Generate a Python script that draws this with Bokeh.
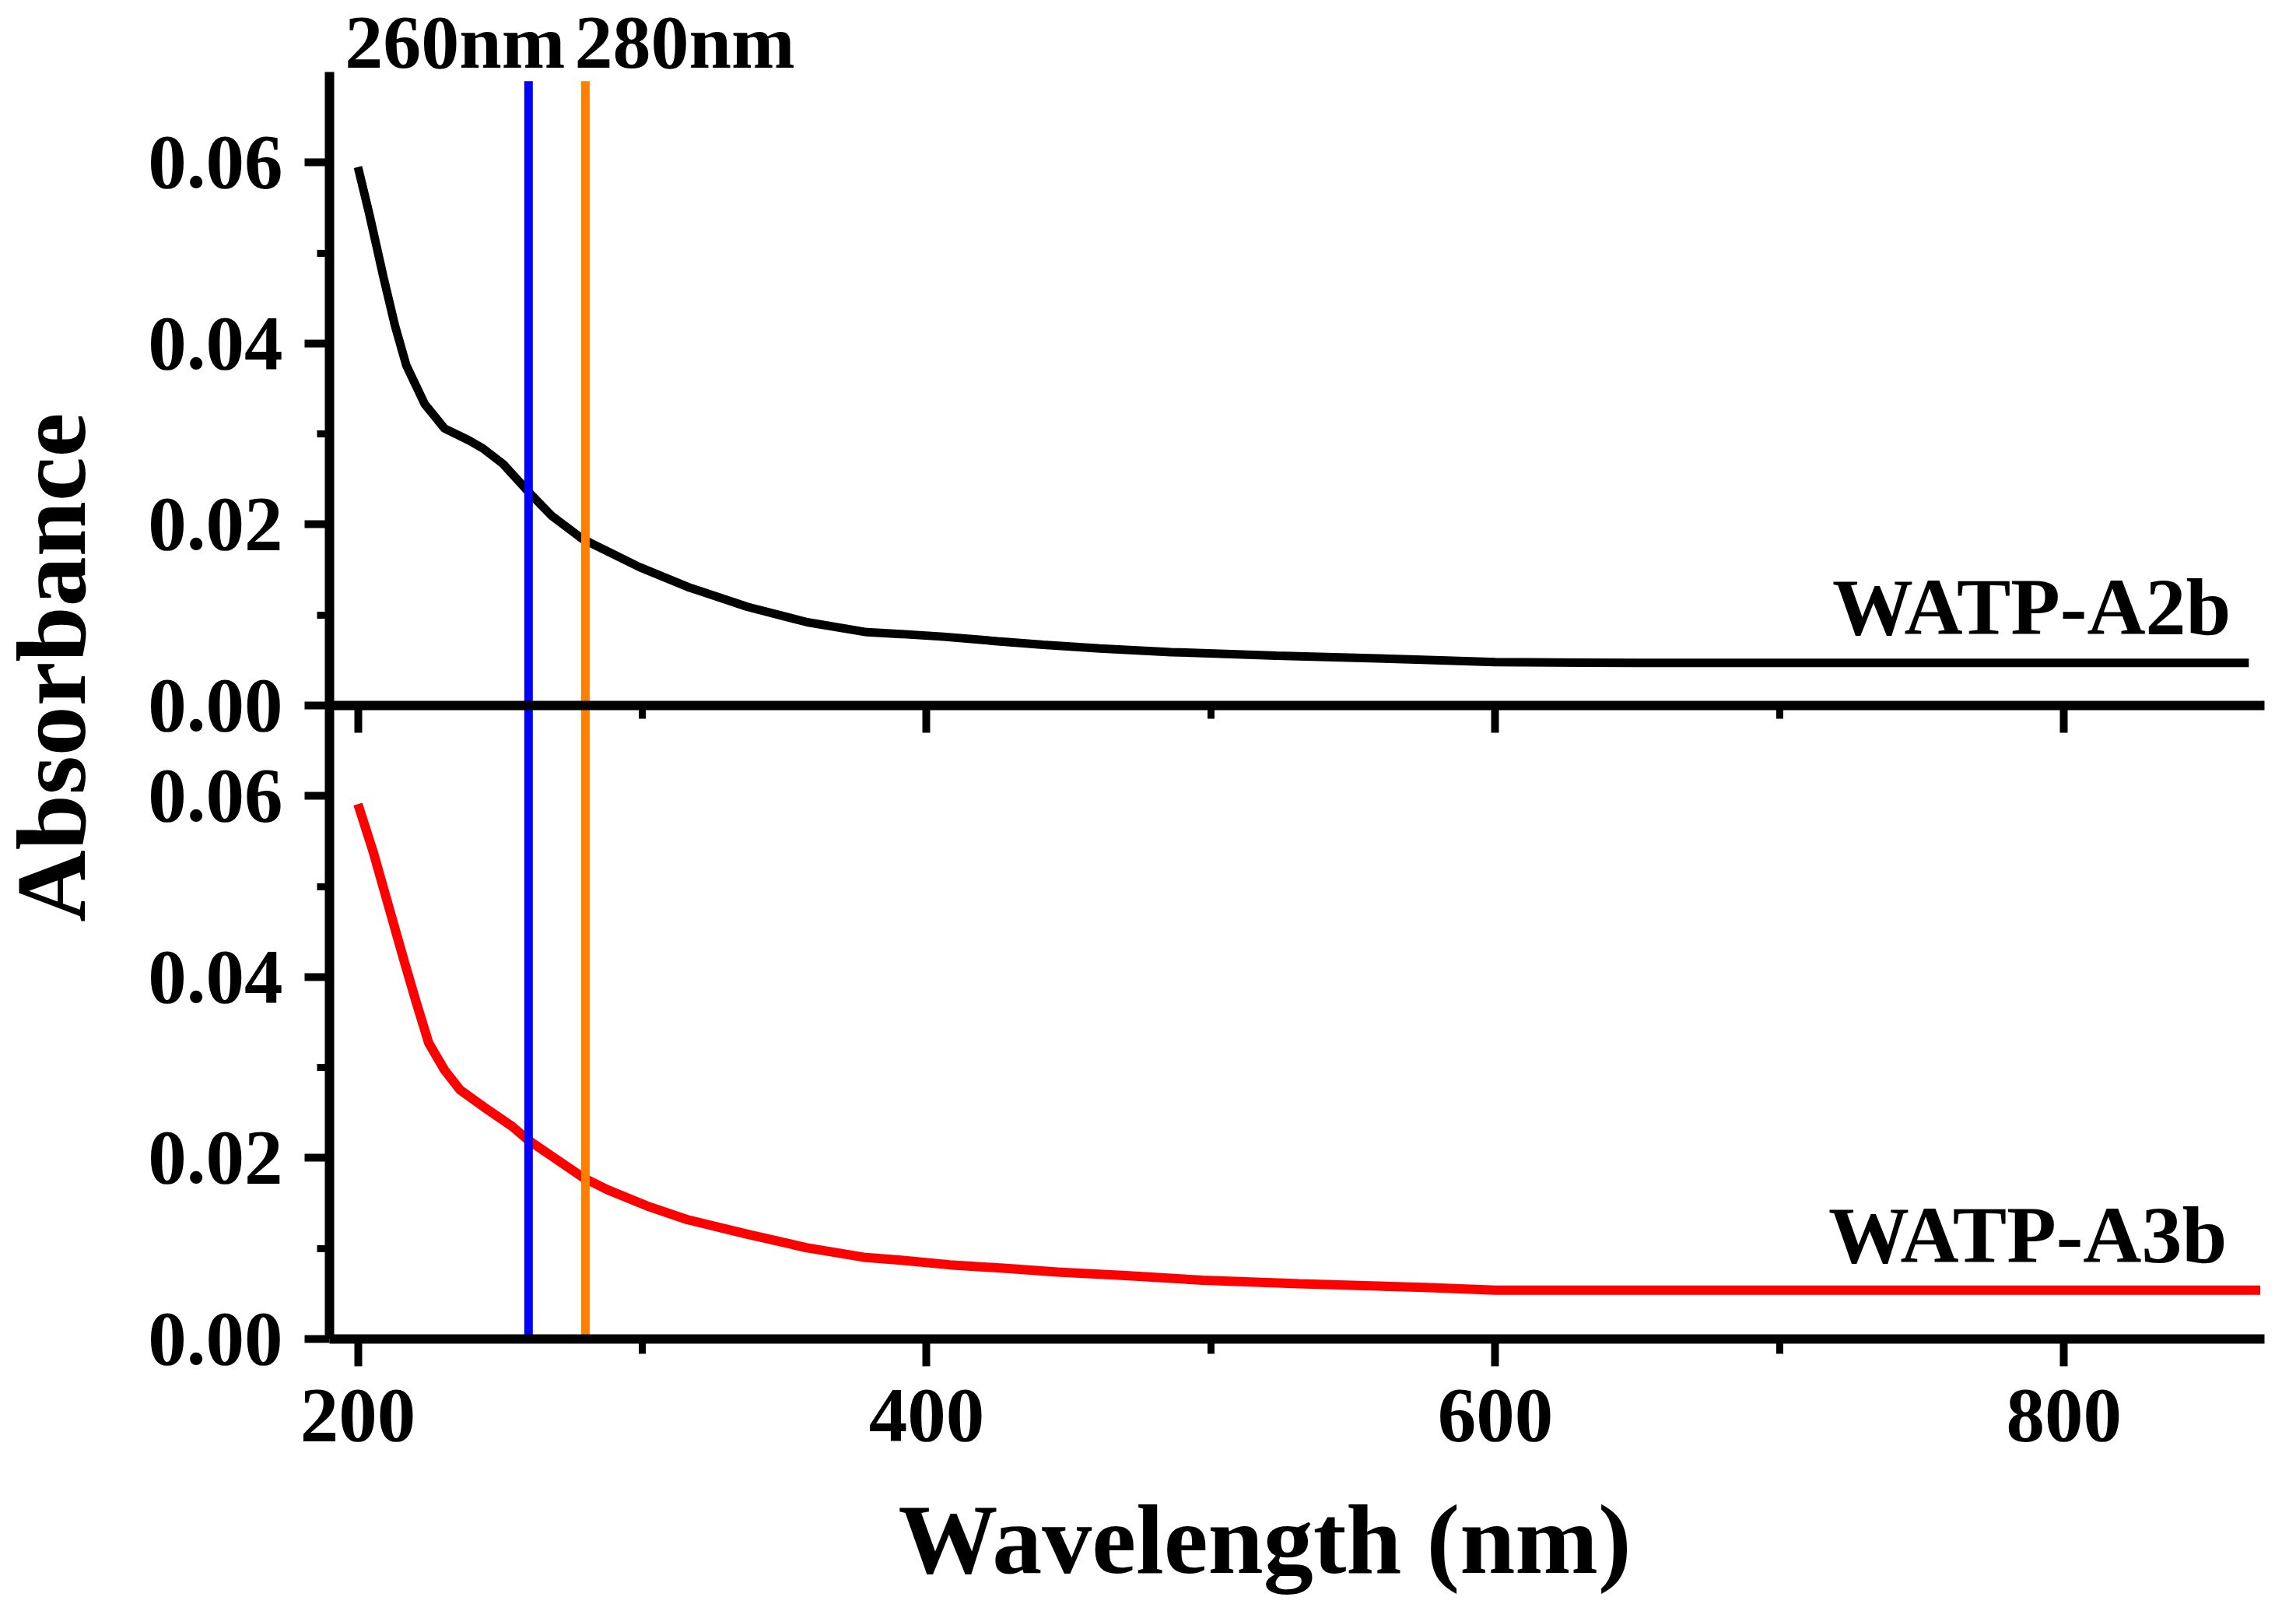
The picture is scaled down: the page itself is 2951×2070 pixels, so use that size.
from bokeh.plotting import figure
from bokeh.models import (Range1d, FixedTicker, SingleIntervalTicker, LinearAxis,
                          Label, CustomJSTickFormatter)
from bokeh.embed import file_html
from bokeh.resources import INLINE

# ---------------- data ----------------
wavelength_a2b = [200, 204, 209, 213, 217, 223.5, 230.5, 239, 244, 251, 260, 268, 279,
                  299, 316, 337, 358, 379, 391, 406, 425, 441, 461, 486, 523, 570, 600,
                  650, 750, 865]
absorbance_a2b = [0.0595, 0.0543, 0.0473, 0.0420, 0.0376, 0.0333, 0.0306, 0.0293, 0.0284,
                  0.0267, 0.0236, 0.0210, 0.0184, 0.0153, 0.0131, 0.0109, 0.0092, 0.0081,
                  0.0079, 0.0076, 0.0071, 0.0067, 0.0063, 0.0059, 0.0055, 0.0051, 0.0048,
                  0.0047, 0.0047, 0.0047]

wavelength_a3b = [200, 205.3, 210.9, 216.5, 220.6, 224.9, 230.5, 236, 245.8, 254.2, 259.8,
                  268.2, 279.4, 287.7, 301.7, 315.7, 336.7, 357.6, 378.6, 391, 408, 428,
                  446, 470, 497, 531, 575, 600, 700, 800, 869]
absorbance_a3b = [0.0591, 0.0539, 0.0477, 0.0415, 0.0371, 0.0327, 0.0297, 0.0275, 0.0253,
                  0.0235, 0.0220, 0.0202, 0.0178, 0.0165, 0.0147, 0.0132, 0.0116, 0.0101,
                  0.0090, 0.0087, 0.0082, 0.0078, 0.0074, 0.0070, 0.0065, 0.0061, 0.0057,
                  0.0054, 0.0054, 0.0054, 0.0054]

marker_wavelengths = [260, 280]
marker_labels = ["260nm", "280nm"]
marker_colors = ["#0000FF", "#FF8000"]
marker_top = 0.069

sample_names = ["WATP-A2b", "WATP-A3b"]
x_title = "Wavelength (nm)"
y_title = "Absorbance"
y_tick_values = [0.00, 0.02, 0.04, 0.06]
y_minor_values = [0.01, 0.03, 0.05]
x_major_interval = 200

X_MIN, X_MAX = 190, 870.5
Y_MAX = 0.07

# ---------------- layout (page px) ----------------
FONT = "Liberation Serif"
TICK_SIZE = "99px"
W, H = 2935, 2054
PL, PR, PT, PB = 423, 2910, 92, 1720      # edges of the plotting area
ppx = (PR - PL) / (X_MAX - X_MIN)
ppy = (PB - PT) / (2 * Y_MAX)
x_start = X_MIN - PL / ppx
x_end = X_MAX + (W - PR) / ppx
y_start = -(H - PB) / ppy
y_end = 2 * Y_MAX + PT / ppy

def px_x(px):
    return x_start + px / ppx

def px_y(py):
    return y_end - py / ppy

p = figure(width=W, height=H, title=None,
           x_range=Range1d(x_start, x_end), y_range=Range1d(y_start, y_end),
           output_backend="svg", toolbar_location=None,
           min_border_left=0, min_border_right=0, min_border_top=0, min_border_bottom=0)
p.xgrid.visible = False
p.ygrid.visible = False
p.outline_line_color = None
p.background_fill_color = "white"
p.border_fill_color = "white"
p.extra_y_ranges = {"top": Range1d(y_start - Y_MAX, y_end - Y_MAX)}

def style_axis(ax, tick_major, tick_minor):
    ax.axis_line_width = 12
    ax.axis_line_color = "black"
    ax.major_tick_line_color = "black"
    ax.minor_tick_line_color = "black"
    ax.major_tick_line_width = 10
    ax.minor_tick_line_width = 9
    ax.major_tick_in = 0
    ax.minor_tick_in = 0
    ax.major_tick_out = tick_major
    ax.minor_tick_out = tick_minor
    ax.major_label_text_font = FONT
    ax.major_label_text_font_style = "bold"
    ax.major_label_text_font_size = TICK_SIZE
    ax.major_label_text_color = "black"

# left axis: lower panel values and upper panel values (offset by Y_MAX)
yticks = [round(v, 4) for v in y_tick_values] + [round(v + Y_MAX, 4) for v in y_tick_values]
yminor = [round(v, 4) for v in y_minor_values] + [round(v + Y_MAX, 4) for v in y_minor_values]
yaxis = p.yaxis[0]
yaxis.fixed_location = X_MIN
yaxis.bounds = (0, 2 * Y_MAX)
yaxis.ticker = FixedTicker(ticks=yticks, minor_ticks=yminor)
yaxis.formatter = CustomJSTickFormatter(args=dict(off=Y_MAX), code="""
    const v = tick >= off - 1e-9 ? tick - off : tick;
    return Math.abs(v).toFixed(2);
""")
style_axis(yaxis, 32, 16)
yaxis.major_label_standoff = 28

# bottom axis (lower panel)
xaxis = p.xaxis[0]
xaxis.fixed_location = 0
xaxis.bounds = (X_MIN, X_MAX)
xaxis.ticker = SingleIntervalTicker(interval=x_major_interval, num_minor_ticks=2)
style_axis(xaxis, 35, 19)
xaxis.major_label_standoff = 30

# separator axis between the two panels (x axis of the upper panel)
mid = LinearAxis(ticker=SingleIntervalTicker(interval=x_major_interval, num_minor_ticks=2),
                 fixed_location=Y_MAX, bounds=(X_MIN, X_MAX))
style_axis(mid, 35, 17)
mid.major_label_text_alpha = 0
p.add_layout(mid, "below")

# axis titles
p.add_layout(Label(x=px_x(1625), y=px_y(1977), text=x_title,
                   text_align="center", text_baseline="alphabetic",
                   text_font=FONT, text_font_style="bold", text_font_size="128px",
                   text_color="black"))
p.add_layout(Label(x=px_x(65), y=px_y(857), text=y_title, angle=90, angle_units="deg",
                   text_align="center", text_baseline="alphabetic",
                   text_font=FONT, text_font_style="bold", text_font_size="128px",
                   text_color="black"))

# spectra
p.line(wavelength_a2b, absorbance_a2b, y_range_name="top", line_color="black", line_width=11)
p.line(wavelength_a3b, absorbance_a3b, line_color="#FF0000", line_width=12)

# 260 / 280 nm marker lines spanning both panels
for wl, col in zip(marker_wavelengths, marker_colors):
    p.segment(x0=[wl], y0=[-Y_MAX], x1=[wl], y1=[marker_top],
              y_range_name="top", line_color=col, line_width=11)

offsets = [(47, "right"), (-14, "left")]
for wl, txt, (dx, al) in zip(marker_wavelengths, marker_labels, offsets):
    p.add_layout(Label(x=wl, y=Y_MAX, y_range_name="top", x_offset=dx, y_offset=39,
                       text=txt, text_align=al, text_baseline="alphabetic",
                       text_font=FONT, text_font_style="bold", text_font_size="98px",
                       text_color="black"))

p.add_layout(Label(x=858.7, y=0.0084, y_range_name="top", y_offset=29, text=sample_names[0],
                   text_align="right", text_baseline="alphabetic",
                   text_font=FONT, text_font_style="bold", text_font_size="104px",
                   text_color="black"))
p.add_layout(Label(x=857.3, y=0.0089, y_offset=31, text=sample_names[1],
                   text_align="right", text_baseline="alphabetic",
                   text_font=FONT, text_font_style="bold", text_font_size="104px",
                   text_color="black"))

open("out.html", "w").write(file_html(p, INLINE))
